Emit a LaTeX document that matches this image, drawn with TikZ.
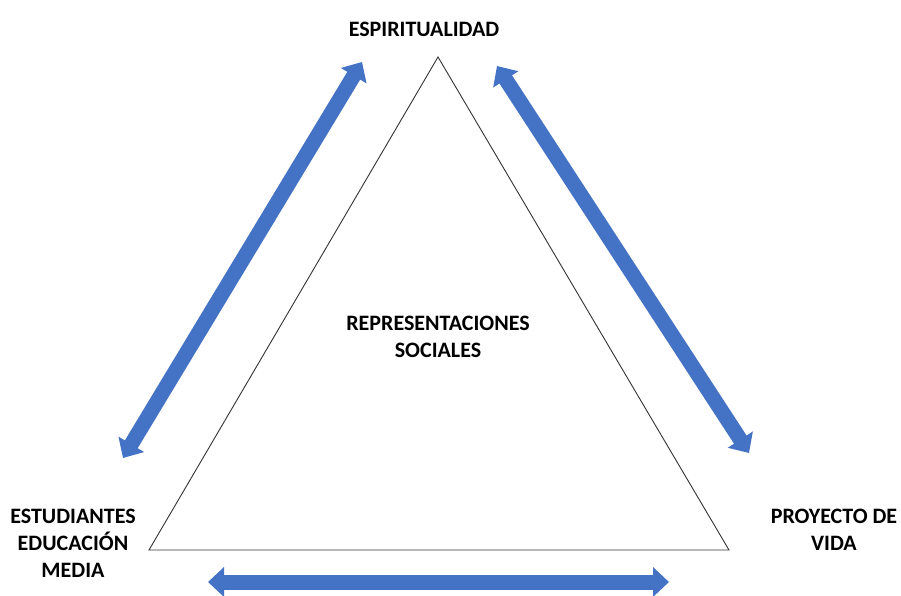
\documentclass[tikz,border=0pt]{standalone}
\usepackage{fontspec}
\setmainfont{Carlito}
\usetikzlibrary{arrows.meta}
\definecolor{arrowblue}{HTML}{4472C4}
\begin{document}
\begin{tikzpicture}[x=1pt,y=-1pt,
  lbl/.style={font=\bfseries\fontsize{22}{26.8}\selectfont, align=center, text=black, inner sep=0pt},
  dblarrow/.style={draw=arrowblue, line width=15pt,
    {Triangle[width=29pt,length=16pt]}-{Triangle[width=29pt,length=16pt]}},
  tri/.style={draw=black!80, line width=0.9pt, line join=miter}]
\useasboundingbox (0,0) rectangle (901,595);
\coordinate (A) at (438,57);
\coordinate (B) at (149,550);
\coordinate (C) at (729,550);
\draw[tri] (A) -- (B) -- (C) -- cycle;
\node[lbl] (esp) at (424,29) {ESPIRITUALIDAD};
\node[lbl] (rep) at (438,337) {REPRESENTACIONES\\SOCIALES};
\node[lbl] (est) at (73,543) {ESTUDIANTES\\EDUCACIÓN\\MEDIA};
\node[lbl] (pro) at (834,530) {PROYECTO DE\\VIDA};
\coordinate (l1) at (123,458);
\coordinate (l2) at (362,62);
\coordinate (r1) at (497,66);
\coordinate (r2) at (749,453);
\coordinate (b1) at (208,582);
\coordinate (b2) at (669,582);
\draw[dblarrow] (l1) -- (l2);
\draw[dblarrow] (r1) -- (r2);
\draw[dblarrow] (b1) -- (b2);
\end{tikzpicture}
\end{document}
